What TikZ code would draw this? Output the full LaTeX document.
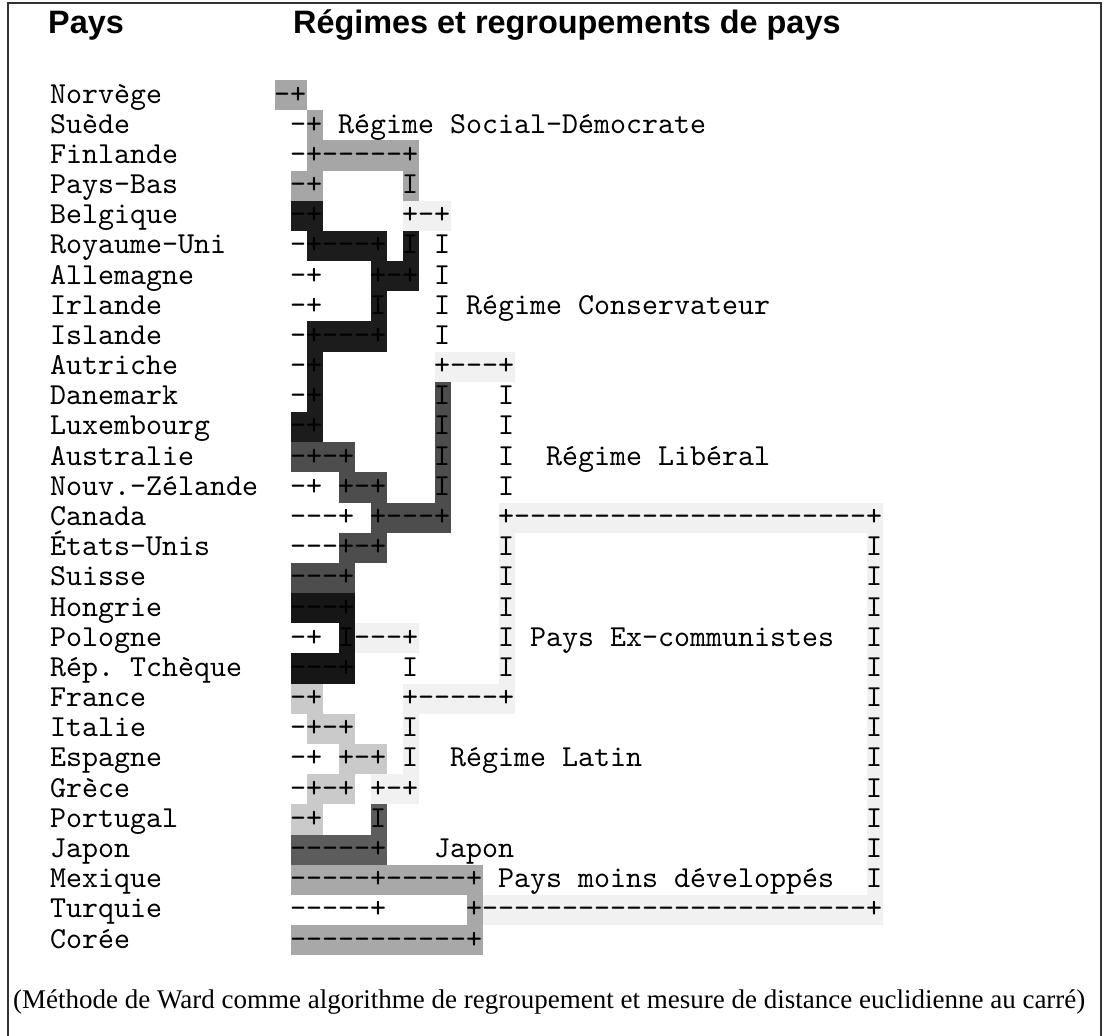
\documentclass[tikz,border=0pt]{standalone}
\usepackage{fontspec}
\setmainfont{Liberation Serif}
\newfontfamily\headfont{Liberation Sans}
\newfontfamily\dendro[Ligatures=TeXOff]{lmmono10-regular.otf}
\definecolor{grpsd}{HTML}{A6A6A6}
\definecolor{grpcons}{HTML}{1C1C1C}
\definecolor{grplib}{HTML}{4D4D4D}
\definecolor{grpexc}{HTML}{161616}
\definecolor{grplat}{HTML}{CACACA}
\definecolor{grpjap}{HTML}{5C5C5C}
\definecolor{grpless}{HTML}{A8A8A8}
\definecolor{grplink}{HTML}{F1F1F1}
% grid: column c starts at x = 290+16c, row r is centred at y = 95+30.18r
\newcommand\cellfill[5]{\fill[#1] ({291+16*(#2)},{80+30.18*(#4)}) rectangle ({307+16*(#3)},{110.18+30.18*(#5)});}
\newcommand\seg[4]{\node[dtext] (#1) at ({290+16*(#3)},{103+30.18*(#2)}) {#4};}
\begin{document}
\begin{tikzpicture}[x=1pt,y=-1pt,
  dtext/.style={anchor=base west,inner sep=0pt,outer sep=0pt,font=\dendro\fontsize{30.48}{30}\selectfont},
  headtext/.style={anchor=base west,inner sep=0pt,font=\headfont\bfseries\fontsize{32.4}{34}\selectfont},
  notetext/.style={anchor=base west,inner sep=0pt,font=\fontsize{27}{29}\selectfont}]
\useasboundingbox (0,0) rectangle (1103,1036);
\fill[white] (0,0) rectangle (1103,1036);
% frame
\draw[line width=1.5pt,black!80] (8,1036) -- (8,3) -- (1101,3) -- (1101,1036);
% headings
\node[headtext] (hpays) at (48,33) {Pays};
\node[headtext] (hreg) at (293,33) {Régimes et regroupements de pays};
% faint link areas
\cellfill{grplink}{7}{9}{4}{4}
\cellfill{grplink}{9}{13}{9}{9}
\cellfill{grplink}{13}{36}{14}{14}
\cellfill{grplink}{4}{7}{18}{18}
\cellfill{grplink}{7}{13}{20}{20}
\cellfill{grplink}{7}{7}{21}{22}
\cellfill{grplink}{5}{7}{23}{23}
\cellfill{grplink}{12}{36}{27}{27}
\cellfill{grplink}{36}{36}{15}{26}
\cellfill{grplink}{13}{13}{15}{19}
% social-democrat group
\cellfill{grpsd}{-1}{0}{0}{0}
\cellfill{grpsd}{1}{1}{1}{1}
\cellfill{grpsd}{1}{7}{2}{2}
\cellfill{grpsd}{0}{1}{3}{3}
\cellfill{grpsd}{7}{7}{3}{3}
% conservative group
\cellfill{grpcons}{0}{1}{4}{4}
\cellfill{grpcons}{1}{5}{5}{5}
\cellfill{grpcons}{7}{7}{5}{5}
\cellfill{grpcons}{5}{7}{6}{6}
\cellfill{grpcons}{5}{5}{7}{7}
\cellfill{grpcons}{1}{5}{8}{8}
\cellfill{grpcons}{1}{1}{9}{10}
\cellfill{grpcons}{0}{1}{11}{11}
% liberal group
\cellfill{grplib}{0}{3}{12}{12}
\cellfill{grplib}{3}{5}{13}{13}
\cellfill{grplib}{5}{9}{14}{14}
\cellfill{grplib}{9}{9}{10}{13}
\cellfill{grplib}{3}{5}{15}{15}
\cellfill{grplib}{0}{3}{16}{16}
% ex-communist group
\cellfill{grpexc}{0}{3}{17}{17}
\cellfill{grpexc}{3}{3}{18}{18}
\cellfill{grpexc}{0}{3}{19}{19}
% latin group
\cellfill{grplat}{0}{1}{20}{20}
\cellfill{grplat}{1}{3}{21}{21}
\cellfill{grplat}{3}{5}{22}{22}
\cellfill{grplat}{1}{3}{23}{23}
\cellfill{grplat}{0}{1}{24}{24}
% japan
\cellfill{grpjap}{5}{5}{24}{24}
\cellfill{grpjap}{0}{5}{25}{25}
% less developed
\cellfill{grpless}{0}{11}{26}{26}
\cellfill{grpless}{11}{11}{27}{27}
\cellfill{grpless}{0}{11}{28}{28}
% country names
\seg{c0}{0}{-15}{Norvège}
\seg{c1}{1}{-15}{Suède}
\seg{c2}{2}{-15}{Finlande}
\seg{c3}{3}{-15}{Pays-Bas}
\seg{c4}{4}{-15}{Belgique}
\seg{c5}{5}{-15}{Royaume-Uni}
\seg{c6}{6}{-15}{Allemagne}
\seg{c7}{7}{-15}{Irlande}
\seg{c8}{8}{-15}{Islande}
\seg{c9}{9}{-15}{Autriche}
\seg{c10}{10}{-15}{Danemark}
\seg{c11}{11}{-15}{Luxembourg}
\seg{c12}{12}{-15}{Australie}
\seg{c13}{13}{-15}{Nouv.-Zélande}
\seg{c14}{14}{-15}{Canada}
\seg{c15}{15}{-15}{États-Unis}
\seg{c16}{16}{-15}{Suisse}
\seg{c17}{17}{-15}{Hongrie}
\seg{c18}{18}{-15}{Pologne}
\seg{c19}{19}{-15}{Rép.~Tchèque}
\seg{c20}{20}{-15}{France}
\seg{c21}{21}{-15}{Italie}
\seg{c22}{22}{-15}{Espagne}
\seg{c23}{23}{-15}{Grèce}
\seg{c24}{24}{-15}{Portugal}
\seg{c25}{25}{-15}{Japon}
\seg{c26}{26}{-15}{Mexique}
\seg{c27}{27}{-15}{Turquie}
\seg{c28}{28}{-15}{Corée}
% dendrogram rows
\seg{d0}{0}{-1}{-+}
\seg{d1}{1}{0}{-+~Régime~Social-Démocrate}
\seg{d2}{2}{0}{-+-----+}
\seg{d3}{3}{0}{-+~~~~~I}
\seg{d4}{4}{0}{-+~~~~~+-+}
\seg{d5}{5}{0}{-+---+~I~I}
\seg{d6}{6}{0}{-+~~~+-+~I}
\seg{d7}{7}{0}{-+~~~I~~~I~Régime~Conservateur}
\seg{d8}{8}{0}{-+---+~~~I}
\seg{d9}{9}{0}{-+~~~~~~~+---+}
\seg{d10}{10}{0}{-+~~~~~~~I}
\seg{d11}{11}{0}{-+~~~~~~~I}
\seg{d12}{12}{0}{-+-+~~~~~I}
\seg{d13}{13}{0}{-+~+-+~~~I}
\seg{d14}{14}{0}{---+~+---+}
\seg{d15}{15}{0}{---+-+}
\seg{d16}{16}{0}{---+}
\seg{d17}{17}{0}{---+}
\seg{d18}{18}{0}{-+~I---+}
\seg{d19}{19}{0}{---+~~~I}
\seg{d20}{20}{0}{-+~~~~~+-----+}
\seg{d21}{21}{0}{-+-+~~~I}
\seg{d22}{22}{0}{-+~+-+~I~~Régime~Latin}
\seg{d23}{23}{0}{-+-+~+-+}
\seg{d24}{24}{0}{-+~~~I}
\seg{d25}{25}{0}{-----+~~~Japon}
\seg{d26}{26}{0}{-----+-----+~Pays~moins~développés}
\seg{d27}{27}{0}{-----+~~~~~+------------------------+}
\seg{d28}{28}{0}{-----------+}
% column 13 links
\seg{e12}{12}{13}{I~~Régime~Libéral}
\seg{e14}{14}{13}{+----------------------+}
\seg{e18}{18}{13}{I~Pays~Ex-communistes}
\foreach \r in {10,11,13,15,16,17,19}{\seg{e\r}{\r}{13}{I}}
% column 36 links
\foreach \r in {15,...,26}{\seg{f\r}{\r}{36}{I}}
% note
\node[notetext] (note) at (13,1008) {(Méthode de Ward comme algorithme de regroupement et mesure de distance euclidienne au carré)};
\end{tikzpicture}
\end{document}
